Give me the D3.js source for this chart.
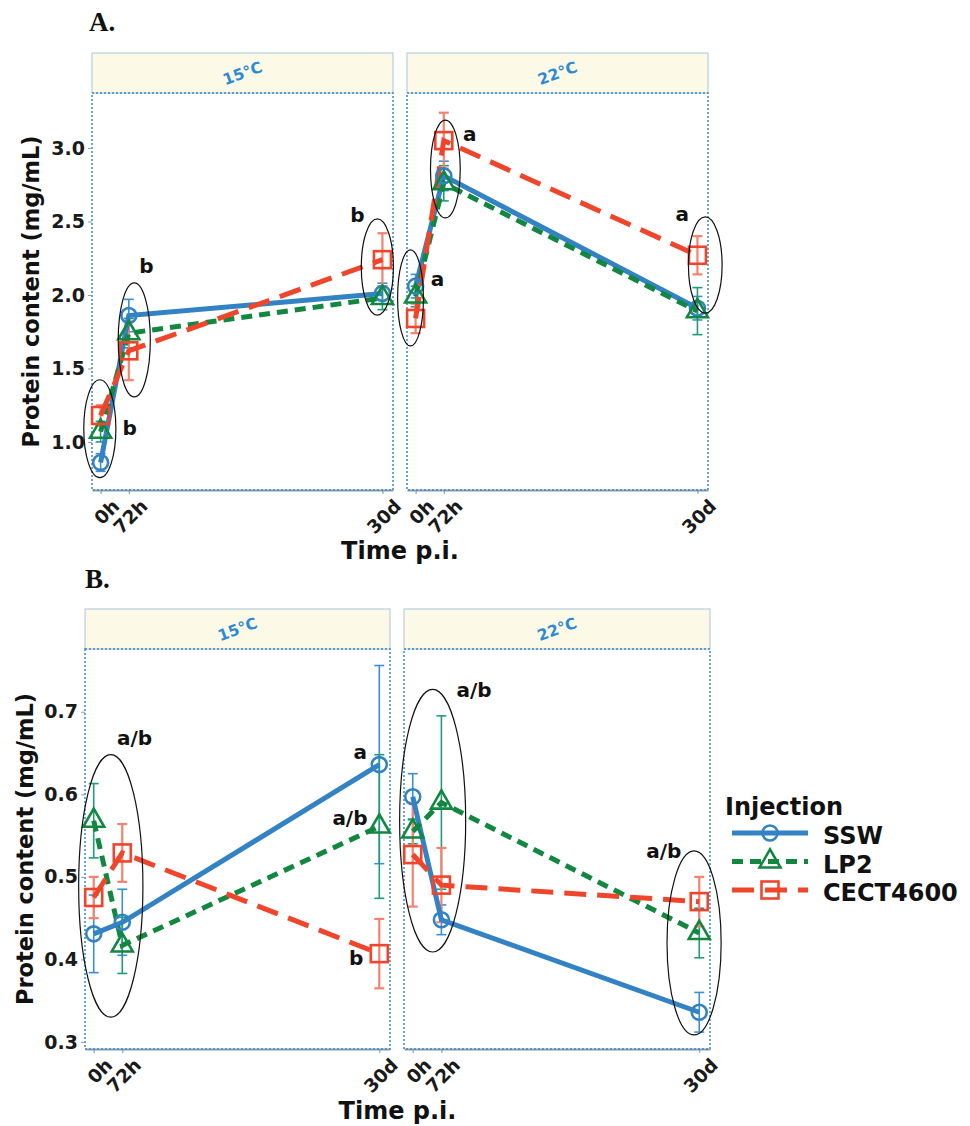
<!DOCTYPE html>
<html><head><meta charset="utf-8">
<script src="https://cdn.jsdelivr.net/npm/d3@7"></script>
<style>body{margin:0;background:#fff;} svg{display:block;font-family:"DejaVu Sans",sans-serif;}</style>
</head><body><svg id="c" width="970" height="1126"></svg>
<script>
// ---------- data ----------
const times = [0, 72, 720];
const timeLabels = ["0h", "72h", "30d"];
const seriesNames = ["SSW", "LP2", "CECT4600"];
const temps = ["15°C", "22°C"];

// Panel A: means and error half-widths (mg/mL)
const A15_SSW = [0.86, 1.86, 2.01],  A15_SSW_err = [0.06, 0.11, 0.07];
const A15_LP2 = [1.07, 1.74, 1.98],  A15_LP2_err = [0.07, 0.10, 0.08];
const A15_CECT = [1.18, 1.62, 2.24], A15_CECT_err = [0.07, 0.20, 0.18];
const A22_SSW = [2.06, 2.81, 1.91],  A22_SSW_err = [0.08, 0.10, 0.08];
const A22_LP2 = [1.99, 2.76, 1.89],  A22_LP2_err = [0.07, 0.12, 0.16];
const A22_CECT = [1.84, 3.05, 2.27], A22_CECT_err = [0.10, 0.19, 0.13];

// Panel B
const B15_SSW = [0.431, 0.445, 0.636],  B15_SSW_err = [0.047, 0.040, 0.120];
const B15_LP2 = [0.568, 0.417, 0.561],  B15_LP2_err = [0.045, 0.034, 0.087];
const B15_CECT = [0.475, 0.529, 0.407], B15_CECT_err = [0.025, 0.035, 0.042];
const B22_SSW = [0.597, 0.448, 0.336],  B22_SSW_err = [0.028, 0.018, 0.024];
const B22_LP2 = [0.555, 0.590, 0.432],  B22_LP2_err = [0.015, 0.105, 0.030];
const B22_CECT = [0.527, 0.490, 0.470], B22_CECT_err = [0.063, 0.045, 0.030];

const yTicksA = [1.0, 1.5, 2.0, 2.5, 3.0];
const yTicksB = [0.3, 0.4, 0.5, 0.6, 0.7];

// significance annotations (data units: t = hours, v = mg/mL)
const ellA15 = [{t:-2, v:1.09, rt:41, rv:0.333}, {t:86, v:1.694, rt:41, rv:0.388}, {t:707, v:2.19, rt:41, rv:0.327}];
const lblA15 = [{t:117, v:2.20, s:"b"}, {t:74, v:1.095, s:"b"}, {t:656, v:2.544, s:"b"}];
const ellA22 = [{t:-13, v:1.98, rt:33, rv:0.327}, {t:76, v:2.857, rt:38, rv:0.333}, {t:740, v:2.204, rt:43, rv:0.327}];
const lblA22 = [{t:56, v:2.109, s:"a"}, {t:138, v:3.095, s:"a"}, {t:681, v:2.551, s:"a"}];
const ellB15 = [{t:43, v:0.489, rt:81, rv:0.159}];
const lblB15 = [{t:103, v:0.668, s:"a/b"}, {t:672, v:0.652, s:"a"}, {t:646, v:0.572, s:"a/b"}, {t:662, v:0.402, s:"b"}];
const ellB22 = [{t:50, v:0.568, rt:83, rv:0.159}, {t:707, v:0.42, rt:68, rv:0.1115}];
const lblB22 = [{t:154, v:0.727, s:"a/b"}, {t:631, v:0.5315, s:"a/b"}];

// ---------- styles ----------
const col = {SSW:"#3282c4", LP2:"#12873f", CECT4600:"#f0452b"};
const errCol = {SSW:"#3b8fd4", LP2:"#1f9c7c", CECT4600:"#f5826f"};
const dash = {SSW:null, LP2:"11,7", CECT4600:"22,11"};
const xDomain = [-22, 747];

const svg = d3.select("#c");

function mk(means, errs) { return times.map((t, i) => ({t, m: means[i], e: errs[i]})); }

function drawMarker(g, name, cx, cy, color) {
  if (name === "SSW") {
    g.append("circle").attr("cx", cx).attr("cy", cy).attr("r", 7.5)
      .attr("fill", "none").attr("stroke", color).attr("stroke-width", 2.6);
  } else if (name === "LP2") {
    const s = 21, h = s * Math.sqrt(3) / 2;
    const pts = [[cx, cy - 2*h/3], [cx - s/2, cy + h/3], [cx + s/2, cy + h/3]];
    g.append("path").attr("d", "M" + pts.map(p => p.join(",")).join("L") + "Z")
      .attr("fill", "none").attr("stroke", color).attr("stroke-width", 2.6);
  } else {
    const s = 17;
    g.append("rect").attr("x", cx - s/2).attr("y", cy - s/2).attr("width", s).attr("height", s)
      .attr("fill", "none").attr("stroke", color).attr("stroke-width", 2.6);
  }
}

function drawSet(cfg) {
  const y = d3.scaleLinear().domain(cfg.yDomain).range([cfg.bottom, cfg.top]);
  // panel label
  svg.append("text").attr("x", cfg.labelX).attr("y", cfg.labelY).text(cfg.label)
    .attr("font-family", "'Liberation Serif', serif").attr("font-weight", "bold")
    .attr("font-size", 27).attr("fill", "#111");

  cfg.panels.forEach((p, pi) => {
    const x = d3.scaleLinear().domain(xDomain).range([p.x0, p.x1]);
    const g = svg.append("g");
    // strip
    g.append("rect").attr("x", p.x0).attr("y", cfg.stripTop).attr("width", p.x1 - p.x0)
      .attr("height", cfg.top - cfg.stripTop).attr("fill", "#fcf9e6")
      .attr("stroke", "#b7cfe1").attr("stroke-width", 1.2);
    const sx = (p.x0 + p.x1) / 2, sy = (cfg.stripTop + cfg.top) / 2;
    g.append("text").attr("transform", `translate(${sx},${sy}) rotate(-20)`)
      .attr("text-anchor", "middle").attr("dy", "0.36em")
      .attr("font-size", 15.5).attr("font-weight", "bold").attr("fill", "#2b8ad2").text(p.temp);

    // x axis
    const xAxis = d3.axisBottom(x).tickValues(times).tickFormat((d, i) => timeLabels[i])
      .tickSize(4).tickSizeOuter(0).tickPadding(0);
    const ax = g.append("g").attr("transform", `translate(0,${cfg.bottom})`).call(xAxis);
    ax.select(".domain").attr("stroke", "#8c9fb0").attr("stroke-width", 2);
    ax.selectAll(".tick line").attr("stroke", "#8c9fb0").attr("stroke-width", 1.2);
    ax.selectAll(".tick text").attr("x", 0).attr("y", 0).attr("dy", "0.72em")
      .attr("text-anchor", "end").attr("transform", "translate(10,8) rotate(-45)")
      .attr("font-size", 18.5).attr("font-weight", "bold").attr("fill", "#1a1a1a")
      .attr("font-family", "'DejaVu Sans', sans-serif");

    // panel border (dotted)
    g.append("rect").attr("x", p.x0).attr("y", cfg.top).attr("width", p.x1 - p.x0)
      .attr("height", cfg.bottom - cfg.top).attr("fill", "none")
      .attr("stroke", "#3a88c4").attr("stroke-width", 1.5).attr("stroke-dasharray", "2,2");

    if (pi === 0) {
      const yAxis = d3.axisLeft(y).tickValues(cfg.yTicks).tickFormat(d3.format(".1f"))
        .tickSize(4).tickSizeOuter(0).tickPadding(3);
      const ay = g.append("g").attr("transform", `translate(${p.x0},0)`).call(yAxis);
      ay.select(".domain").remove();
      ay.selectAll(".tick line").attr("stroke", "#8c9fb0");
      ay.selectAll(".tick text").attr("font-size", 19).attr("font-weight", "bold").attr("fill", "#1a1a1a")
        .attr("font-family", "'DejaVu Sans', sans-serif");
    }

    // error bars
    const ge = g.append("g");
    seriesNames.forEach(n => {
      p.data[n].forEach(d => {
        const xx = x(d.t), y1 = y(d.m + d.e), y0 = y(d.m - d.e);
        const w = n === "CECT4600" ? 2.2 : 1.6;
        ge.append("line").attr("x1", xx).attr("x2", xx).attr("y1", y1).attr("y2", y0)
          .attr("stroke", errCol[n]).attr("stroke-width", w);
        [y1, y0].forEach(yy => ge.append("line").attr("x1", xx - 5).attr("x2", xx + 5)
          .attr("y1", yy).attr("y2", yy).attr("stroke", errCol[n]).attr("stroke-width", w));
      });
    });
    // lines
    const line = d3.line().x(d => x(d.t)).y(d => y(d.m));
    seriesNames.forEach(n => {
      g.append("path").datum(p.data[n]).attr("d", line).attr("fill", "none")
        .attr("stroke", col[n]).attr("stroke-width", 5)
        .attr("stroke-dasharray", dash[n]);
    });
    // points
    seriesNames.forEach(n => {
      p.data[n].forEach(d => drawMarker(g, n, x(d.t), y(d.m), col[n]));
    });
    // annotations
    p.ell.forEach(e => {
      g.append("ellipse").attr("cx", x(e.t)).attr("cy", y(e.v))
        .attr("rx", Math.abs(x(e.t + e.rt) - x(e.t))).attr("ry", Math.abs(y(e.v + e.rv) - y(e.v)))
        .attr("fill", "none").attr("stroke", "#111").attr("stroke-width", 1.2);
    });
    p.lbl.forEach(l => {
      g.append("text").attr("x", x(l.t)).attr("y", y(l.v)).attr("dy", "0.36em")
        .attr("text-anchor", "middle").attr("font-size", 20).attr("font-weight", "bold")
        .attr("fill", "#111").text(l.s);
    });
  });

  // axis titles
  const midY = (cfg.top + cfg.bottom) / 2;
  svg.append("text").attr("transform", `translate(${cfg.yTitleX},${midY}) rotate(-90)`)
    .attr("text-anchor", "middle").attr("dy", "0.36em").attr("font-size", 22.5)
    .attr("font-weight", "bold").attr("fill", "#111").text("Protein content (mg/mL)");
  const midX = (cfg.panels[0].x0 + cfg.panels[1].x1) / 2;
  svg.append("text").attr("x", midX).attr("y", cfg.xTitleY).attr("text-anchor", "middle")
    .attr("font-size", 24).attr("font-weight", "bold").attr("fill", "#111").text("Time p.i.");
}

drawSet({
  label: "A.", labelX: 89, labelY: 31,
  stripTop: 53, top: 93, bottom: 490,
  yDomain: [0.673, 3.374], yTicks: yTicksA, yTitleX: 31, xTitleY: 559,
  panels: [
    {x0: 92, x1: 393, temp: temps[0], ell: ellA15, lbl: lblA15,
     data: {SSW: mk(A15_SSW, A15_SSW_err), LP2: mk(A15_LP2, A15_LP2_err), CECT4600: mk(A15_CECT, A15_CECT_err)}},
    {x0: 407, x1: 708, temp: temps[1], ell: ellA22, lbl: lblA22,
     data: {SSW: mk(A22_SSW, A22_SSW_err), LP2: mk(A22_LP2, A22_LP2_err), CECT4600: mk(A22_CECT, A22_CECT_err)}}
  ]
});

drawSet({
  label: "B.", labelX: 85, labelY: 588,
  stripTop: 609, top: 649, bottom: 1049,
  yDomain: [0.2915, 0.776], yTicks: yTicksB, yTitleX: 25, xTitleY: 1119,
  panels: [
    {x0: 85, x1: 390, temp: temps[0], ell: ellB15, lbl: lblB15,
     data: {SSW: mk(B15_SSW, B15_SSW_err), LP2: mk(B15_LP2, B15_LP2_err), CECT4600: mk(B15_CECT, B15_CECT_err)}},
    {x0: 404, x1: 710, temp: temps[1], ell: ellB22, lbl: lblB22,
     data: {SSW: mk(B22_SSW, B22_SSW_err), LP2: mk(B22_LP2, B22_LP2_err), CECT4600: mk(B22_CECT, B22_CECT_err)}}
  ]
});

// legend
const lg = svg.append("g");
lg.append("text").attr("x", 725).attr("y", 815).attr("font-size", 24).attr("font-weight", "bold")
  .attr("fill", "#111").text("Injection");
seriesNames.forEach((n, i) => {
  const cy = 833 + i * 28.5;
  lg.append("line").attr("x1", 732).attr("x2", 808).attr("y1", cy).attr("y2", cy)
    .attr("stroke", col[n]).attr("stroke-width", 5).attr("stroke-dasharray", dash[n]);
  drawMarker(lg, n, 770, cy, col[n]);
  lg.append("text").attr("x", 823).attr("y", cy + 11).attr("font-size", 24).attr("font-weight", "bold")
    .attr("fill", "#111").text(n);
});
</script>
</body></html>
